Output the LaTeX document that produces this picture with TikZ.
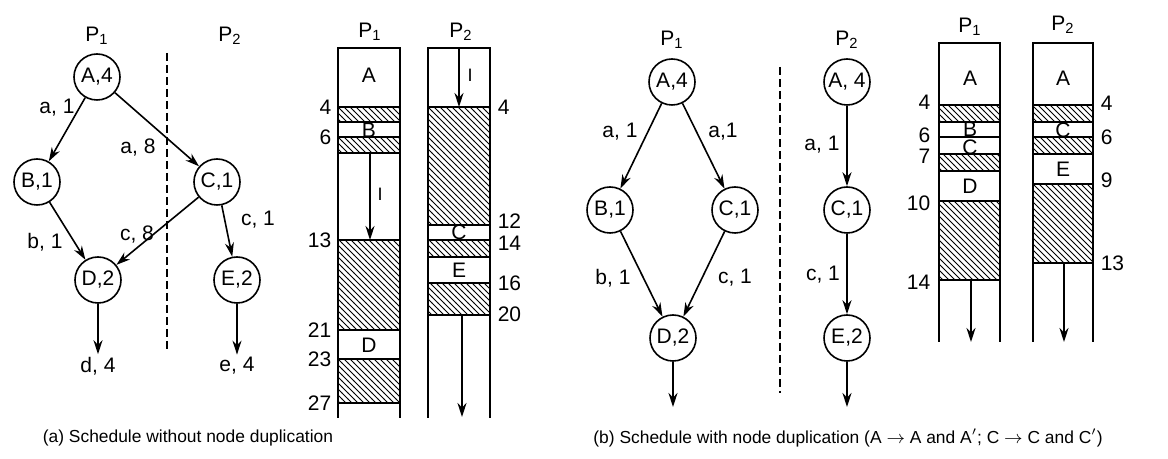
\documentclass[tikz,border=0pt]{standalone}
\usepackage{fontspec}
\setmainfont{Liberation Sans}
\usetikzlibrary{arrows.meta,positioning,patterns}

\begin{document}
\begin{tikzpicture}[x=0.5pt,y=-0.5pt,line width=0.8pt,
  font=\fontsize{10.5}{12}\selectfont,
  >={Stealth[length=7pt,width=4.5pt]},
  task/.style={draw,circle,minimum size=23pt,inner sep=0pt},
  wt/.style={inner sep=1pt},
  divider/.style={dash pattern=on 4pt off 2pt},
  hatch/.style={pattern=north west lines},
  capt/.style={font=\fontsize{8.7}{10}\selectfont}]
\useasboundingbox (0,0) rectangle (1168,459);

% ---- (a) task graph ----
\node (pa1) at (97,36) {P\textsubscript{1}};
\node (pa2) at (230,36) {P\textsubscript{2}};
\node[task] (A)  at (97,77)   {A,4};
\node[task] (B)  at (37,182)  {B,1};
\node[task] (C)  at (217,182) {C,1};
\node[task] (D)  at (98,280)  {D,2};
\node[task] (E)  at (237,280) {E,2};
\node[wt] (dout) at (98,366)  {d, 4};
\node[wt] (eout) at (237,366) {e, 4};
\draw[->] (A)--(B); \draw[->] (A)--(C);
\draw[->] (B)--(D); \draw[->] (C)--(D); \draw[->] (C)--(E);
\draw[->] (D)--(dout); \draw[->] (E)--(eout);
\node[wt] at (57,108)  {a, 1};
\node[wt] at (138,148) {a, 8};
\node[wt] at (45,242)  {b, 1};
\node[wt] at (137,235) {c, 8};
\node[wt] at (258,220) {c, 1};
\coordinate (sa1) at (167,53); \coordinate (sa2) at (167,350);
\draw[divider] (sa1)--(sa2);

% ---- (a) schedule ----
\node (ga1) at (370,32) {P\textsubscript{1}};
\node (ga2) at (461,32) {P\textsubscript{2}};
\fill[hatch] (338,107) rectangle (400,122);
\fill[hatch] (338,137) rectangle (400,153);
\fill[hatch] (338,240) rectangle (400,330);
\fill[hatch] (338,359) rectangle (400,403);
\draw (338,418)--(338,48)--(400,48)--(400,418);
\draw (338,107)--(400,107) (338,122)--(400,122) (338,137)--(400,137)
      (338,153)--(400,153) (338,240)--(400,240) (338,330)--(400,330)
      (338,359)--(400,359) (338,403)--(400,403);
\fill[hatch] (428,107) rectangle (490,225);
\fill[hatch] (428,240) rectangle (490,257);
\fill[hatch] (428,283) rectangle (490,315);
\draw (428,418)--(428,48)--(490,48)--(490,418);
\draw (428,107)--(490,107) (428,225)--(490,225) (428,240)--(490,240)
      (428,257)--(490,257) (428,283)--(490,283) (428,315)--(490,315);
\node at (369,75)  {A};
\node[inner sep=0pt] at (369,130) {B};
\node at (369,345) {D};
\node[inner sep=0pt] at (459,232) {C};
\node at (459,270) {E};
\coordinate (ia1) at (370,153); \coordinate (ia2) at (370,240);
\draw[->] (ia1)--(ia2);
\node[font=\rmfamily\small] at (380,194) {I};
\coordinate (ib1) at (459,48); \coordinate (ib2) at (459,107);
\draw[->] (ib1)--(ib2);
\node[font=\rmfamily\small] at (470,75) {I};
\coordinate (ic1) at (462,315); \coordinate (ic2) at (462,417);
\draw[->] (ic1)--(ic2);
\node[anchor=east,wt] at (334,107) {4};
\node[anchor=east,wt] at (334,137) {6};
\node[anchor=east,wt] at (334,240) {13};
\node[anchor=east,wt] at (334,330) {21};
\node[anchor=east,wt] at (334,359) {23};
\node[anchor=east,wt] at (334,403) {27};
\node[anchor=west,wt] at (495,107) {4};
\node[anchor=west,wt] at (495,221) {12};
\node[anchor=west,wt] at (495,243) {14};
\node[anchor=west,wt] at (495,283) {16};
\node[anchor=west,wt] at (495,314) {20};

% ---- (b) task graph ----
\node (pb1) at (672,40) {P\textsubscript{1}};
\node (pb2) at (847,40) {P\textsubscript{2}};
\node[task] (A1) at (672,82)  {A,4};
\node[task] (B1) at (610,210) {B,1};
\node[task] (C1) at (735,210) {C,1};
\node[task] (D1) at (673,338) {D,2};
\node[task] (A2) at (847,82)  {A, 4};
\node[task] (C2) at (847,210) {C,1};
\node[task] (E2) at (847,338) {E,2};
\coordinate (dend) at (673,407); \coordinate (eend) at (847,407);
\draw[->] (A1)--(B1); \draw[->] (A1)--(C1);
\draw[->] (B1)--(D1); \draw[->] (C1)--(D1); \draw[->] (D1)--(dend);
\draw[->] (A2)--(C2); \draw[->] (C2)--(E2); \draw[->] (E2)--(eend);
\node[wt] at (620,132) {a, 1};
\node[wt] at (723,132) {a,1};
\node[wt] at (822,145) {a, 1};
\node[wt] at (613,278) {b, 1};
\node[wt] at (735,278) {c, 1};
\node[wt] at (823,275) {c, 1};
\coordinate (sb1) at (780,67); \coordinate (sb2) at (780,393);
\draw[divider] (sb1)--(sb2);

% ---- (b) schedule ----
\node (gb1) at (970,27) {P\textsubscript{1}};
\node (gb2) at (1063,25) {P\textsubscript{2}};
\fill[hatch] (939,105) rectangle (1000,122);
\fill[hatch] (939,154) rectangle (1000,171);
\fill[hatch] (939,201) rectangle (1000,280);
\draw (939,342)--(939,43)--(1000,43)--(1000,342);
\draw (939,105)--(1000,105) (939,122)--(1000,122) (939,137)--(1000,137)
      (939,154)--(1000,154) (939,171)--(1000,171) (939,201)--(1000,201)
      (939,280)--(1000,280);
\fill[hatch] (1033,105) rectangle (1093,122);
\fill[hatch] (1033,137) rectangle (1093,154);
\fill[hatch] (1033,184) rectangle (1093,263);
\draw (1033,342)--(1033,43)--(1093,43)--(1093,342);
\draw (1033,105)--(1093,105) (1033,122)--(1093,122) (1033,137)--(1093,137)
      (1033,154)--(1093,154) (1033,184)--(1093,184) (1033,263)--(1093,263);
\node at (970,78)  {A};
\node[inner sep=0pt] at (970,129) {B};
\node[inner sep=0pt] at (970,147) {C};
\node at (970,186) {D};
\node at (1063,78)  {A};
\node[inner sep=0pt] at (1063,130) {C};
\node at (1063,169) {E};
\coordinate (id1) at (971,280); \coordinate (id2) at (971,342);
\draw[->] (id1)--(id2);
\coordinate (ie1) at (1064,263); \coordinate (ie2) at (1064,342);
\draw[->] (ie1)--(ie2);
\node[anchor=east,wt] at (933,102) {4};
\node[anchor=east,wt] at (933,135) {6};
\node[anchor=east,wt] at (933,156) {7};
\node[anchor=east,wt] at (933,203) {10};
\node[anchor=east,wt] at (933,282) {14};
\node[anchor=west,wt] at (1098,103) {4};
\node[anchor=west,wt] at (1098,137) {6};
\node[anchor=west,wt] at (1098,180) {9};
\node[anchor=west,wt] at (1098,263) {13};

% ---- captions ----
\node[capt] (capa) at (188,438) {(a) Schedule without node duplication};
\node[capt] (capb) at (848,438) {(b) Schedule with node duplication (A $\rightarrow$ A and A$'$; C $\rightarrow$ C and C$'$)};
\end{tikzpicture}
\end{document}
